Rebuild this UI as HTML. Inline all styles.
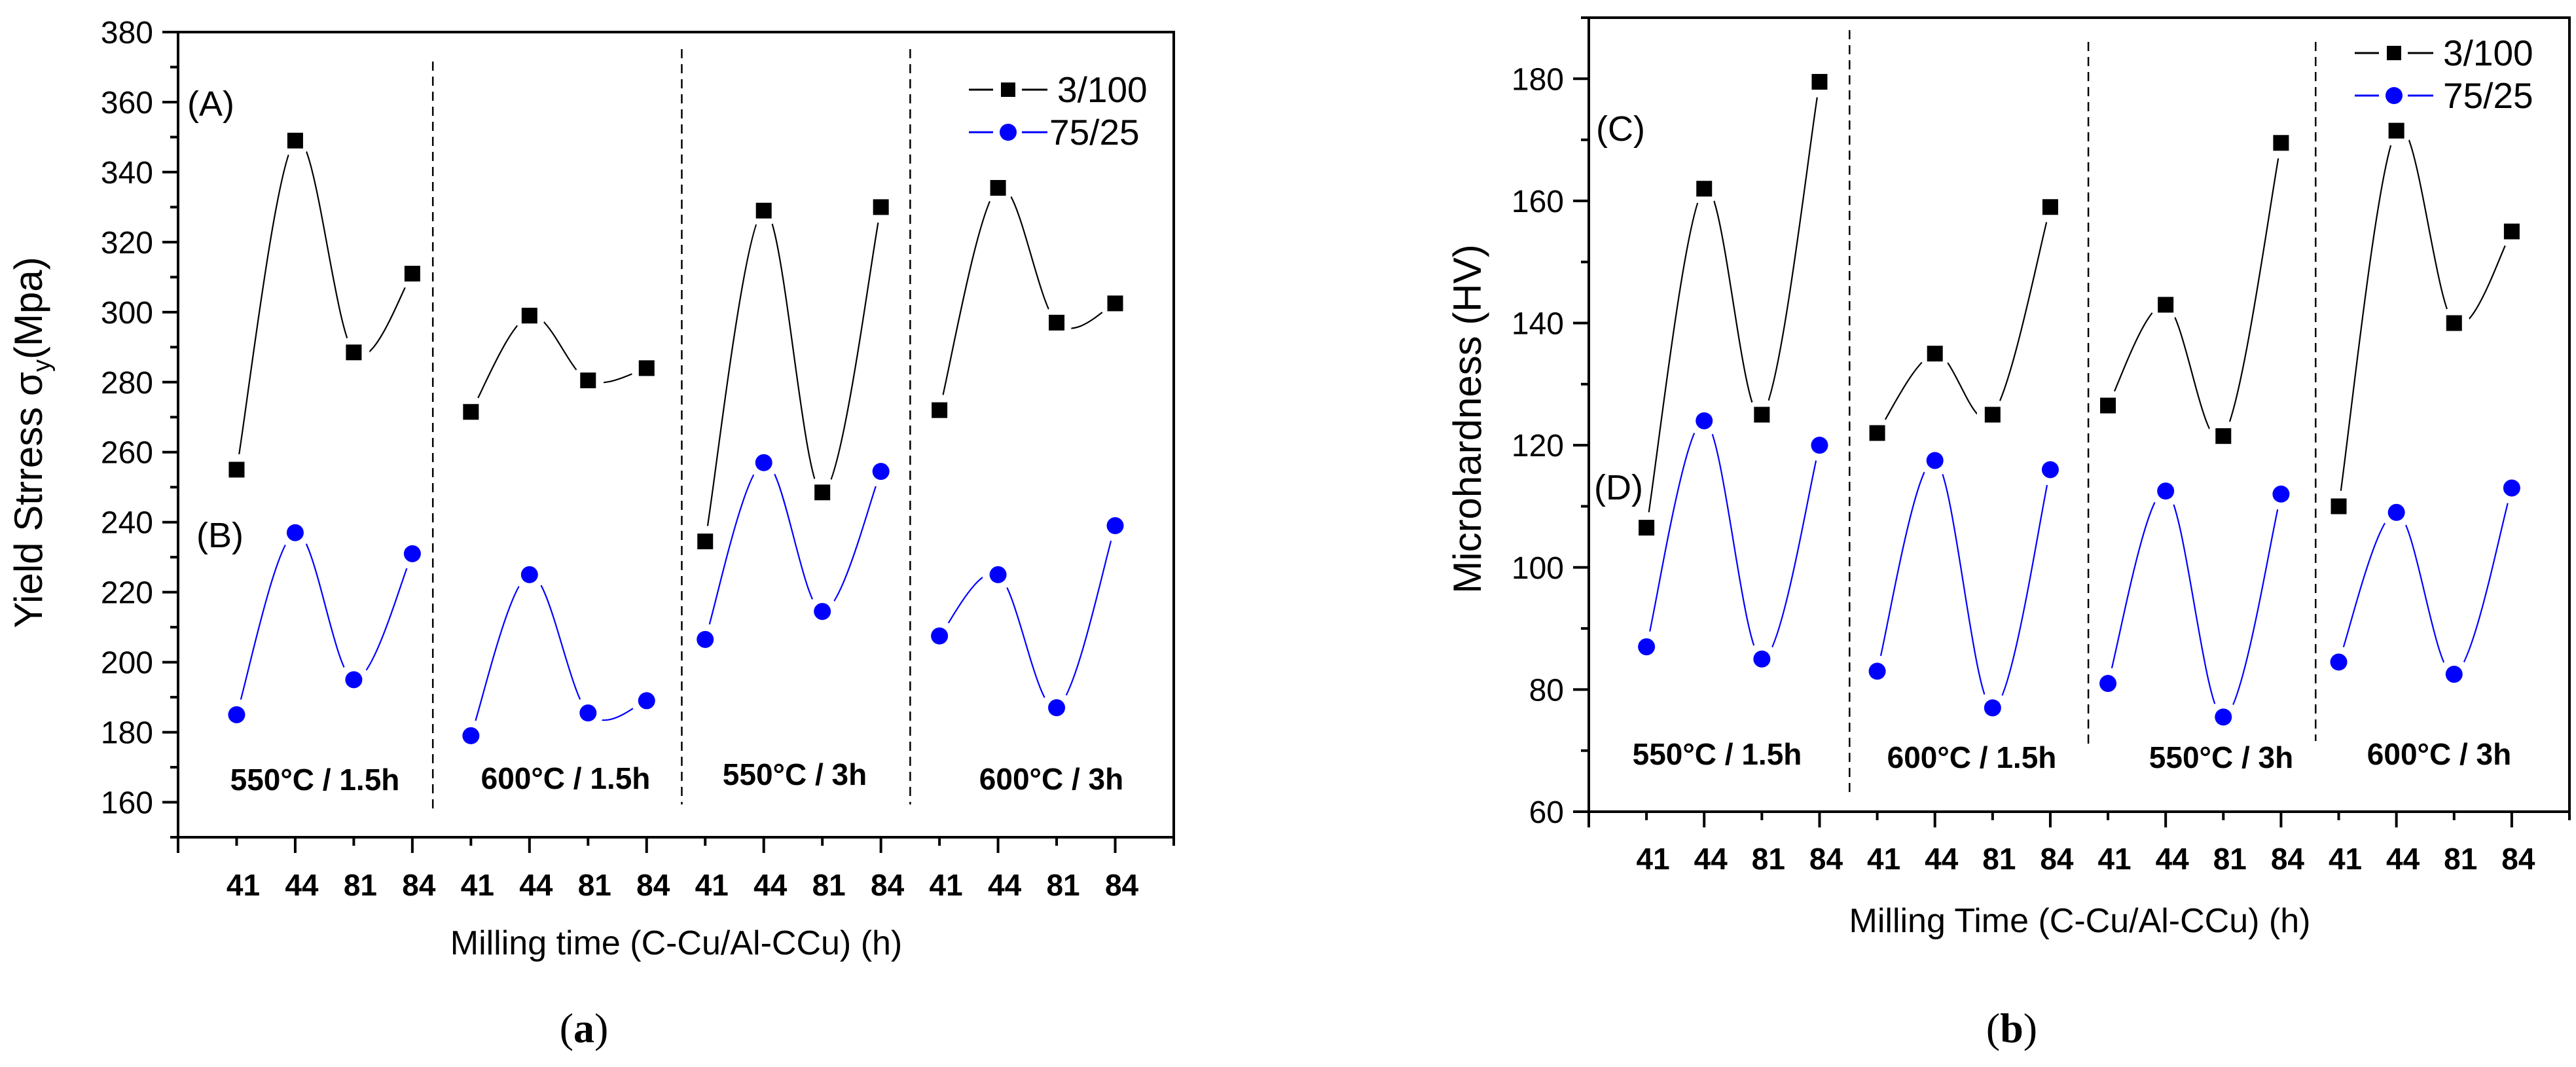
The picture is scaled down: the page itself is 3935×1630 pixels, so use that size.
<!DOCTYPE html>
<html><head><meta charset="utf-8"><style>
html,body{margin:0;padding:0;background:#fff;}
svg{display:block;}
text{font-family:"Liberation Sans",Arial,sans-serif;}
.tk{font-size:48px;fill:#000;}
.xt{font-size:46px;font-weight:bold;fill:#000;}
.grp{font-size:46px;font-weight:bold;fill:#000;}
</style></head><body>
<svg id="fig" width="3935" height="1630" viewBox="0 0 3935 1630" xmlns="http://www.w3.org/2000/svg"></svg>
<script>
const groupLabels = ["550°C / 1.5h","600°C / 1.5h","550°C / 3h","600°C / 3h"];
const xTickLabels = ["41","44","81","84"];
const seriesNames = ["3/100","75/25"];
const yieldA = [255,349,288.5,311, 271.5,299,280.5,284, 234.5,329,248.5,330, 272,335.5,297,302.5];
const yieldB = [185,237,195,231, 179,225,185.5,189, 206.5,257,214.5,254.5, 207.5,225,187,239];
const hardC = [106.5,162,125,179.5, 122,135,125,159, 126.5,143,121.5,169.5, 110,171.5,140,155];
const hardD = [87,124,85,120, 83,117.5,77,116, 81,112.5,75.5,112, 84.5,109,82.5,113];
const yTicksA = [160,180,200,220,240,260,280,300,320,340,360,380];
const yTicksB = [60,80,100,120,140,160,180];

const NS="http://www.w3.org/2000/svg";
const svg=document.getElementById('fig');
function el(tag,attrs,parent,txt){const e=document.createElementNS(NS,tag);for(const k in attrs)e.setAttribute(k,attrs[k]);if(txt!==undefined)e.textContent=txt;(parent||svg).appendChild(e);return e;}

function panel(cfg){
  const g=el('g',{});
  
  
  const X=v=>cfg.x0+(cfg.x1-cfg.x0)*v/17;
  const Y=v=>cfg.yb-(v-cfg.ymin)/(cfg.ymax-cfg.ymin)*(cfg.yb-cfg.yt);
  const fr=el('rect',{x:cfg.x0,y:cfg.yt,width:cfg.x1-cfg.x0,height:cfg.yb-cfg.yt,fill:'none',stroke:'#000','stroke-width':4},g);
  
  
  for(let v=cfg.ymin;v<=cfg.ymax;v+=10){
    if(v%10!==0)continue;
    const major=v%20===0;
    el('line',{x1:cfg.x0-(major?24:12),x2:cfg.x0,y1:Y(v),y2:Y(v),stroke:'#000','stroke-width':4},g);
  }
  cfg.yticks.forEach(v=>{
    const t=el('text',{x:cfg.x0-38,y:Y(v)+17,'text-anchor':'end',class:'tk'},g,String(v));
    
    
  });
  for(let i=0;i<=17;i++){
    el('line',{x1:X(i),x2:X(i),y1:cfg.yb,y2:cfg.yb+(i%2===0?24:13),stroke:'#000','stroke-width':4},g);
  }
  for(let i=1;i<=16;i++){
    const t=el('text',{x:X(i)+10,y:cfg.xly,'text-anchor':'middle',class:'xt'},g,xTickLabels[(i-1)%4]);
    
    
  }
  cfg.div.forEach(d=>{
    const l=el('line',{x1:X(d[0]),x2:X(d[0]),y1:d[1],y2:d[2],stroke:'#000','stroke-width':2.5,'stroke-dasharray':'14 9'},g);
    
    
  });
  groupLabels.forEach((s,i)=>{
    const t=el('text',{x:cfg.gl[i][0],y:cfg.gl[i][1]+16,'text-anchor':'middle',class:'grp'},g,s);
    
    
  });
  const mid=cfg.name+'-mask';
  const defs=el('defs',{},g);
  const m=el('mask',{id:mid,maskUnits:'userSpaceOnUse',x:0,y:0,width:3935,height:1630},defs);
  el('rect',{x:0,y:0,width:3935,height:1630,fill:'#fff'},m);
  [cfg.s1,cfg.s2].forEach(arr=>arr.forEach((v,i)=>el('circle',{cx:X(i+1),cy:Y(v),r:24,fill:'#000'},m)));
  [[cfg.s1,'#000'],[cfg.s2,'#0000ff']].forEach(([arr,col],si)=>{
    for(let gi=0;gi<4;gi++){
      const pts=[];for(let k=0;k<4;k++){const i=gi*4+k;pts.push([X(i+1),Y(arr[i])]);}
      let d='M'+pts[0][0]+','+pts[0][1];
      for(let k=0;k<3;k++){
        const p0=pts[Math.max(0,k-1)],p1=pts[k],p2=pts[k+1],p3=pts[Math.min(3,k+2)];
        const c1=[p1[0]+(p2[0]-p0[0])/6,p1[1]+(p2[1]-p0[1])/6];
        const c2=[p2[0]-(p3[0]-p1[0])/6,p2[1]-(p3[1]-p1[1])/6];
        d+=' C'+c1[0]+','+c1[1]+' '+c2[0]+','+c2[1]+' '+p2[0]+','+p2[1];
      }
      const p=el('path',{d:d,fill:'none',stroke:col,'stroke-width':2.2,mask:'url(#'+mid+')'},g);
      
      
    }
  });
  cfg.s1.forEach((v,i)=>{
    const r=el('rect',{x:X(i+1)-12,y:Y(v)-12,width:24,height:24,fill:'#000'},g);
    
    
  });
  cfg.s2.forEach((v,i)=>{
    const c=el('circle',{cx:X(i+1),cy:Y(v),r:13,fill:'#0000ff'},g);
    
    
  });
  const lg=el('g',{},g);
  
  
  const L=cfg.leg;
  el('line',{x1:L.mx-60,x2:L.mx-23,y1:L.y1,y2:L.y1,stroke:'#000','stroke-width':3},lg);
  el('line',{x1:L.mx+21,x2:L.mx+60,y1:L.y1,y2:L.y1,stroke:'#000','stroke-width':3},lg);
  el('rect',{x:L.mx-11,y:L.y1-11,width:22,height:22,fill:'#000'},lg);
  el('text',{x:L.tx1,y:L.y1+19,style:'font-size:55px'},lg,seriesNames[0]);
  el('line',{x1:L.mx-60,x2:L.mx-23,y1:L.y2,y2:L.y2,stroke:'#0000ff','stroke-width':3},lg);
  el('line',{x1:L.mx+21,x2:L.mx+60,y1:L.y2,y2:L.y2,stroke:'#0000ff','stroke-width':3},lg);
  el('circle',{cx:L.mx,cy:L.y2,r:13,fill:'#0000ff'},lg);
  el('text',{x:L.tx2,y:L.y2+19,style:'font-size:55px'},lg,seriesNames[1]);
  cfg.letters.forEach(a=>{
    const t=el('text',{x:a[1],y:a[2]+19,style:'font-size:54px'},g,a[0]);
    
    
  });
  const xt=el('text',{x:cfg.xtitle[0],y:cfg.xtitle[1]+18,'text-anchor':'middle',style:'font-size:52px'},g,cfg.xtitle[2]);
  
  
  const yt=el('text',{x:0,y:0,'text-anchor':'middle',transform:'translate('+cfg.ytitle[0]+','+cfg.ytitle[1]+') rotate(-90)',style:'font-size:60px'},g);
  
  
  if(cfg.sigma){
    el('tspan',{},yt,'Yield Strress σ');
    el('tspan',{'font-size':'38px',dy:'12'},yt,'y');
    el('tspan',{dy:'-12'},yt,'(Mpa)');
  } else yt.textContent=cfg.ytitle[2];
  const sub=el('text',{x:cfg.sub[0],y:cfg.sub[1]+20,'text-anchor':'middle',style:'font-family:\"Liberation Serif\",serif;font-size:64px'},g);
  
  
  el('tspan',{},sub,'(');
  el('tspan',{'font-weight':'bold'},sub,cfg.sub[2]);
  el('tspan',{},sub,')');
}

panel({name:'yield-stress-chart',x0:272,x1:1793,yt:49,yb:1279,ymin:150,ymax:380,yticks:yTicksA,
  s1:yieldA,s2:yieldB,xly:1368,
  div:[[4.35,94,1240],[8.6,75,1229],[12.5,75,1229]],
  gl:[[481,1191],[864,1189],[1214,1183],[1606,1190]],
  leg:{mx:1540,y1:137,y2:202,tx1:1615,tx2:1603},
  letters:[['(A)',286,158],['(B)',300,817]],
  xtitle:[1033,1440,'Milling time (C-Cu/Al-CCu) (h)'],
  ytitle:[64,676,''],sigma:true,sub:[892,1572,'a']});

panel({name:'microhardness-chart',x0:2427,x1:3925,yt:27,yb:1240,ymin:60,ymax:190,yticks:yTicksB,
  s1:hardC,s2:hardD,xly:1328,
  div:[[4.52,46,1212],[8.66,64,1139],[12.6,64,1132]],
  gl:[[2623,1152],[3012,1157],[3393,1157],[3726,1152]],
  leg:{mx:3657,y1:81,y2:146,tx1:3732,tx2:3732},
  letters:[['(C)',2438,196],['(D)',2435,744]],
  xtitle:[3177,1406,'Milling Time (C-Cu/Al-CCu) (h)'],
  ytitle:[2262,640,'Microhardness (HV)'],sigma:false,sub:[3073,1572,'b']});
</script>
</body></html>
